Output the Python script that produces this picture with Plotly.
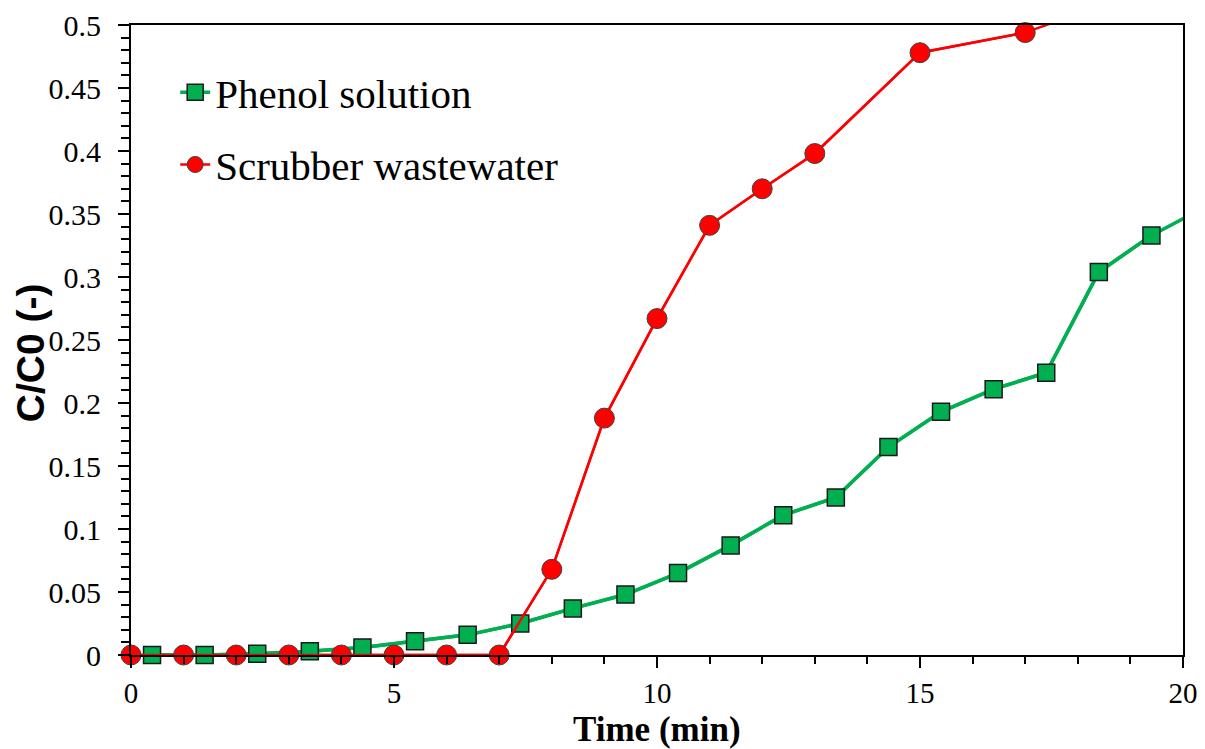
import plotly.graph_objects as go

phenol_x = [0.4, 1.4, 2.4, 3.4, 4.4, 5.4, 6.4, 7.4, 8.4, 9.4, 10.4, 11.4, 12.4, 13.4, 14.4, 15.4, 16.4, 17.4, 18.4, 19.4, 20.4]
phenol_y = [0.0, 0.0, 0.001, 0.003, 0.006, 0.011, 0.016, 0.025, 0.037, 0.048, 0.065, 0.087, 0.111, 0.125, 0.165, 0.193, 0.211, 0.224, 0.304, 0.333, 0.355]

scrub_x = [0, 1, 2, 3, 4, 5, 6, 7, 8, 9, 10, 11, 12, 13, 15, 17, 19]
scrub_y = [0, 0, 0, 0, 0, 0, 0, 0, 0.068, 0.188, 0.267, 0.341, 0.370, 0.398, 0.478, 0.494, 0.524]

X_RANGE = [0, 20]
Y_RANGE = [0, 0.5]
X_TICKS = [0, 5, 10, 15, 20]

SERIF = "Liberation Serif"
SANS = "Liberation Sans"


def visible(xs, ys):
    pts = [(x, y) for x, y in zip(xs, ys)
           if X_RANGE[0] <= x <= X_RANGE[1] and Y_RANGE[0] <= y <= Y_RANGE[1]]
    return [p[0] for p in pts], [p[1] for p in pts]


series = [
    dict(name="Phenol solution", x=phenol_x, y=phenol_y, color="#00b050", lw=3.5,
         marker=dict(symbol="square", size=17, color="#00b050", line=dict(color="#1a1a1a", width=1.5))),
    dict(name="Scrubber wastewater", x=scrub_x, y=scrub_y, color="#ff0000", lw=2.5,
         marker=dict(symbol="circle", size=20, color="#ff0000", line=dict(color="#404040", width=1))),
]

fig = go.Figure()
for s in series:
    # full line, clipped to the plot area
    fig.add_trace(go.Scatter(x=s["x"], y=s["y"], mode="lines", showlegend=False,
                             line=dict(color=s["color"], width=s["lw"]), hoverinfo="skip"))
for i, s in enumerate(series):
    vx, vy = visible(s["x"], s["y"])
    fig.add_trace(go.Scatter(x=vx, y=vy, mode="lines+markers", name=s["name"],
                             line=dict(color=s["color"], width=s["lw"]),
                             marker=s["marker"], legendgroup=str(i), cliponaxis=False))

fig.update_layout(
    width=1205, height=749,
    margin=dict(l=131, r=22, t=25, b=94),
    paper_bgcolor="white", plot_bgcolor="white",
    font=dict(family=SERIF, color="black"),
    showlegend=True,
    legend=dict(x=0.042, y=0.946, xanchor="left", yanchor="top",
                font=dict(family=SERIF, size=41, color="black"),
                bgcolor="rgba(0,0,0,0)", traceorder="grouped", tracegroupgap=16,
                itemwidth=30),
    xaxis=dict(
        range=X_RANGE, tickvals=X_TICKS, showgrid=False, zeroline=False, automargin=False,
        showline=True, linecolor="black", linewidth=2, mirror=True,
        ticks="outside", ticklen=11, tickwidth=2, tickcolor="black",
        minor=dict(dtick=1, ticks="outside", ticklen=7, tickwidth=1.5, tickcolor="black", showgrid=False),
        tickfont=dict(family=SERIF, size=29, color="black"), ticklabelstandoff=0,
    ),
    yaxis=dict(
        range=Y_RANGE, dtick=0.05, showgrid=False, zeroline=False, automargin=False,
        showline=True, linecolor="black", linewidth=2, mirror=True,
        ticks="outside", ticklen=11, tickwidth=2, tickcolor="black",
        minor=dict(dtick=0.01, ticks="outside", ticklen=8, tickwidth=1.5, tickcolor="black", showgrid=False),
        tickfont=dict(family=SERIF, size=30, color="black"), ticklabelstandoff=11,
        tickformat="~g",
    ),
    annotations=[
        dict(text="<b>Time (min)</b>", xref="paper", yref="paper", x=0.5, y=-0.119,
             xanchor="center", yanchor="middle", showarrow=False,
             font=dict(family=SERIF, size=35, color="black")),
        dict(text="<b>C/C0 (-)</b>", xref="paper", yref="paper", x=-0.096, y=0.479,
             xanchor="center", yanchor="middle", showarrow=False, textangle=-90,
             font=dict(family=SANS, size=39, color="black")),
    ],
)

fig.write_html("out.html")
